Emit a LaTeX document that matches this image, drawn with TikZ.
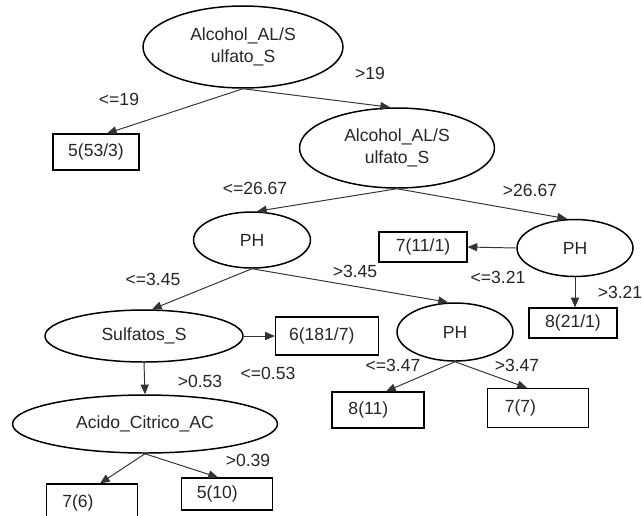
\documentclass[tikz,border=0pt]{standalone}
\usepackage{fontspec}
\setmainfont{Liberation Sans}
\usetikzlibrary{shapes.geometric,arrows.meta,calc}
\begin{document}
\begin{tikzpicture}[x=0.02cm,y=-0.02cm,
  font=\fontsize{10}{12.5}\selectfont,
  test/.style={ellipse,draw,line width=0.85pt,inner sep=0pt,align=center,text=black!85},
  leaf/.style={rectangle,draw,line width=0.7pt,inner sep=0pt,text=black!85},
  cond/.style={inner sep=0pt,text=black!85},
  branch/.style={draw=black!80,line width=0.55pt,-{Triangle[length=5.5pt,width=4.6pt]}}]
\useasboundingbox[fill=white] (0,0) rectangle (642,515);

% decision nodes
\node[test,minimum width=4cm,minimum height=1.64cm] (root) at (243,47) {Alcohol\_AL/S\\ulfato\_S};
\node[test,minimum width=3.9cm,minimum height=1.6cm] (alc) at (397,148) {Alcohol\_AL/S\\ulfato\_S};
\node[test,minimum width=2.34cm,minimum height=1.12cm] (phL) at (252,240) {PH};
\node[test,minimum width=2.32cm,minimum height=1.14cm] (phR) at (575,248) {PH};
\node[test,minimum width=3.96cm,minimum height=1.04cm] (sulf) at (144,336) {Sulfatos\_S};
\node[test,minimum width=2.32cm,minimum height=1.16cm] (phM) at (455,332) {PH};
\node[test,minimum width=5.3cm,minimum height=1.16cm] (acido) at (145,424) {Acido\_Citrico\_AC};

% leaves
\node[leaf,minimum width=1.72cm,minimum height=0.72cm] (l1) at (96,152) {5(53/3)};
\node[leaf,minimum width=1.76cm,minimum height=0.6cm] (l2) at (423,247) {7(11/1)};
\node[leaf,minimum width=1.76cm,minimum height=0.6cm] (l3) at (573,323) {8(21/1)};
\node[leaf,minimum width=2.06cm,minimum height=0.76cm] (l4) at (327,336) {6(181/7)\hspace*{6pt}};
\node[leaf,minimum width=1.84cm,minimum height=0.72cm] (l5) at (378,410) {8(11)\hspace*{11pt}};
\node[leaf,minimum width=2.02cm,minimum height=0.78cm] (l6) at (538,408) {7(7)\hspace*{20pt}};
\node[leaf,minimum width=1.82cm,minimum height=0.76cm] (l7) at (92,503) {7(6)\hspace*{16pt}};
\node[leaf,minimum width=1.82cm,minimum height=0.64cm] (l8) at (227,494) {5(10)\hspace*{11pt}};

% branches
\draw[branch] (root.south) -- ($(l1.north)+(11,0)$);
\draw[branch] (root.south) -- ($(alc.north)+(-7,0)$);
\draw[branch] (alc.south) -- ($(phL.north)+(5,0)$);
\draw[branch] (alc.south) -- ($(phR.north)+(-8,0)$);
\draw[branch] (phR.west) -- (l2.east);
\draw[branch] (phR.south) -- (l3.north -| phR.south);
\draw[branch] (phL.south) -- ($(sulf.north)+(8,0)$);
\draw[branch] (phL.south) -- ($(phM.north)+(-7,0)$);
\draw[branch] (sulf.east) -- (l4.west);
\draw[branch] (sulf.south) -- (acido.north);
\draw[branch] (phM.south) -- ($(l5.north)+(8,0)$);
\draw[branch] (phM.south) -- ($(l6.north)+(-11,0)$);
\draw[branch] (acido.south) -- ($(l7.north)+(8,0)$);
\draw[branch] (acido.south) -- ($(l8.north)+(-9,0)$);

% branch conditions
\node[cond] (c1) at (119,99) {<=19};
\node[cond] (c2) at (370,73) {>19};
\node[cond] (c3) at (255,188) {<=26.67};
\node[cond] (c4) at (530,190) {>26.67};
\node[cond] (c5) at (498,277) {<=3.21};
\node[cond] (c6) at (620,292) {>3.21};
\node[cond] (c7) at (153,279) {<=3.45};
\node[cond] (c8) at (355,271) {>3.45};
\node[cond] (c9) at (268,373) {<=0.53};
\node[cond] (c10) at (200,381) {>0.53};
\node[cond] (c11) at (393,365) {<=3.47};
\node[cond] (c12) at (517,365) {>3.47};
\node[cond] (c13) at (248,460) {>0.39};
\end{tikzpicture}
\end{document}
